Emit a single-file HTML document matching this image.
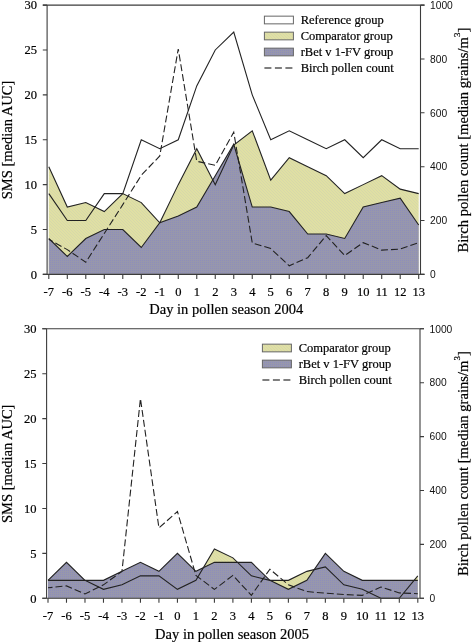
<!DOCTYPE html>
<html><head><meta charset="utf-8"><style>
html,body{margin:0;padding:0;background:#fff;}
svg{display:block;will-change:transform;}
text{font-family:"Liberation Serif",serif;fill:#000;stroke:#000;stroke-width:0.2px;}
.tl{font-size:12.5px;}
.tr{font-family:"Liberation Sans",sans-serif;font-size:10.25px;stroke:none;fill:#111;}
.lg{font-size:12.5px;}
.at{font-size:14.5px;}
</style></head><body>
<svg width="472" height="644" viewBox="0 0 472 644">
<defs>
<pattern id="pc" patternUnits="userSpaceOnUse" x="0" y="0" width="3" height="3">
<rect width="3" height="3" fill="rgb(224,224,163)"/>
<rect x="0" y="0" width="1" height="1" fill="rgb(215,216,170)"/>
<rect x="1" y="1" width="1" height="1" fill="rgb(215,216,170)"/>
<rect x="2" y="2" width="1" height="1" fill="rgb(215,216,170)"/>
</pattern>
<pattern id="pr" patternUnits="userSpaceOnUse" x="0" y="0" width="2" height="2">
<rect width="2" height="2" fill="rgb(151,151,172)"/>
<rect x="0" y="0" width="1" height="1" fill="rgb(142,142,186)"/>
</pattern>
</defs>
<polygon points="48.80,274.40 48.80,193.61 67.30,220.54 85.79,220.54 104.28,193.61 122.78,193.61 141.28,139.75 159.77,148.73 178.26,139.75 196.76,85.89 215.25,49.98 233.75,32.03 252.25,94.87 270.74,139.75 289.24,130.77 307.73,139.75 326.23,148.73 344.72,139.75 363.22,157.70 381.71,139.75 400.21,148.73 418.70,148.73 418.70,274.40" fill="#fff" stroke="none"/>
<polygon points="48.80,274.40 48.80,166.68 67.30,207.07 85.79,202.59 104.28,211.56 122.78,193.61 141.28,202.59 159.77,222.78 178.26,184.63 196.76,148.73 215.25,184.63 233.75,145.14 252.25,130.77 270.74,180.14 289.24,157.70 307.73,166.68 326.23,175.66 344.72,193.61 363.22,184.63 381.71,175.66 400.21,189.12 418.70,193.61 418.70,274.40" fill="url(#pc)" stroke="none"/>
<polygon points="48.80,274.40 48.80,238.49 67.30,256.45 85.79,238.49 104.28,229.52 122.78,229.52 141.28,247.47 159.77,222.78 178.26,216.05 196.76,207.07 215.25,175.66 233.75,144.24 252.25,207.07 270.74,207.07 289.24,211.56 307.73,234.00 326.23,234.00 344.72,238.49 363.22,207.07 381.71,202.59 400.21,198.10 418.70,225.03 418.70,274.40" fill="url(#pr)" stroke="none"/>
<polyline points="48.80,193.61 67.30,220.54 85.79,220.54 104.28,193.61 122.78,193.61 141.28,139.75 159.77,148.73 178.26,139.75 196.76,85.89 215.25,49.98 233.75,32.03 252.25,94.87 270.74,139.75 289.24,130.77 307.73,139.75 326.23,148.73 344.72,139.75 363.22,157.70 381.71,139.75 400.21,148.73 418.70,148.73" fill="none" stroke="#222" stroke-width="1.1" stroke-linejoin="miter" />
<polyline points="48.80,166.68 67.30,207.07 85.79,202.59 104.28,211.56 122.78,193.61 141.28,202.59 159.77,222.78 178.26,184.63 196.76,148.73 215.25,184.63 233.75,145.14 252.25,130.77 270.74,180.14 289.24,157.70 307.73,166.68 326.23,175.66 344.72,193.61 363.22,184.63 381.71,175.66 400.21,189.12 418.70,193.61" fill="none" stroke="#222" stroke-width="1.1" stroke-linejoin="miter" />
<polyline points="48.80,238.49 67.30,256.45 85.79,238.49 104.28,229.52 122.78,229.52 141.28,247.47 159.77,222.78 178.26,216.05 196.76,207.07 215.25,175.66 233.75,144.24 252.25,207.07 270.74,207.07 289.24,211.56 307.73,234.00 326.23,234.00 344.72,238.49 363.22,207.07 381.71,202.59 400.21,198.10 418.70,225.03" fill="none" stroke="#222" stroke-width="1.1" stroke-linejoin="miter" />
<polyline points="48.80,239.39 67.30,249.62 85.79,262.28 104.28,233.47 122.78,204.65 141.28,175.30 159.77,155.91 178.26,49.00 196.76,161.29 215.25,165.33 233.75,132.21 252.25,242.89 270.74,248.55 289.24,265.78 307.73,257.70 326.23,235.62 344.72,255.55 363.22,242.62 381.71,250.16 400.21,249.09 418.70,242.62" fill="none" stroke="#222" stroke-width="1.1" stroke-linejoin="miter" stroke-dasharray="7,3" stroke-dashoffset="2.5"/>
<path d="M47.10,5.10V274.40M420.50,5.10V274.40M42.80,5.10H424.50M42.80,274.40H424.50" stroke="#3c3c3c" stroke-width="1.1" fill="none"/>
<path d="M42.80,274.40H47.10M42.80,229.52H47.10M42.80,184.63H47.10M42.80,139.75H47.10M42.80,94.87H47.10M42.80,49.98H47.10M42.80,5.10H47.10M420.50,274.40H424.50M420.50,220.54H424.50M420.50,166.68H424.50M420.50,112.82H424.50M420.50,58.96H424.50M420.50,5.10H424.50M48.80,274.40V278.90M67.30,274.40V278.90M85.79,274.40V278.90M104.28,274.40V278.90M122.78,274.40V278.90M141.28,274.40V278.90M159.77,274.40V278.90M178.26,274.40V278.90M196.76,274.40V278.90M215.25,274.40V278.90M233.75,274.40V278.90M252.25,274.40V278.90M270.74,274.40V278.90M289.24,274.40V278.90M307.73,274.40V278.90M326.23,274.40V278.90M344.72,274.40V278.90M363.22,274.40V278.90M381.71,274.40V278.90M400.21,274.40V278.90M418.70,274.40V278.90" stroke="#3c3c3c" stroke-width="1.1" fill="none"/>
<text x="37.10" y="278.70" text-anchor="end" class="tl">0</text>
<text x="37.10" y="233.82" text-anchor="end" class="tl">5</text>
<text x="37.10" y="188.93" text-anchor="end" class="tl">10</text>
<text x="37.10" y="144.05" text-anchor="end" class="tl">15</text>
<text x="37.10" y="99.17" text-anchor="end" class="tl">20</text>
<text x="37.10" y="54.28" text-anchor="end" class="tl">25</text>
<text x="37.10" y="9.40" text-anchor="end" class="tl">30</text>
<text x="430.00" y="278.10" class="tr">0</text>
<text x="430.00" y="224.24" class="tr">200</text>
<text x="430.00" y="170.38" class="tr">400</text>
<text x="430.00" y="116.52" class="tr">600</text>
<text x="430.00" y="62.66" class="tr">800</text>
<text x="430.00" y="8.80" class="tr">1000</text>
<text x="48.80" y="295.70" text-anchor="middle" class="tl">-7</text>
<text x="67.30" y="295.70" text-anchor="middle" class="tl">-6</text>
<text x="85.79" y="295.70" text-anchor="middle" class="tl">-5</text>
<text x="104.28" y="295.70" text-anchor="middle" class="tl">-4</text>
<text x="122.78" y="295.70" text-anchor="middle" class="tl">-3</text>
<text x="141.28" y="295.70" text-anchor="middle" class="tl">-2</text>
<text x="159.77" y="295.70" text-anchor="middle" class="tl">-1</text>
<text x="178.26" y="295.70" text-anchor="middle" class="tl">0</text>
<text x="196.76" y="295.70" text-anchor="middle" class="tl">1</text>
<text x="215.25" y="295.70" text-anchor="middle" class="tl">2</text>
<text x="233.75" y="295.70" text-anchor="middle" class="tl">3</text>
<text x="252.25" y="295.70" text-anchor="middle" class="tl">4</text>
<text x="270.74" y="295.70" text-anchor="middle" class="tl">5</text>
<text x="289.24" y="295.70" text-anchor="middle" class="tl">6</text>
<text x="307.73" y="295.70" text-anchor="middle" class="tl">7</text>
<text x="326.23" y="295.70" text-anchor="middle" class="tl">8</text>
<text x="344.72" y="295.70" text-anchor="middle" class="tl">9</text>
<text x="363.22" y="295.70" text-anchor="middle" class="tl">10</text>
<text x="381.71" y="295.70" text-anchor="middle" class="tl">11</text>
<text x="400.21" y="295.70" text-anchor="middle" class="tl">12</text>
<text x="418.70" y="295.70" text-anchor="middle" class="tl">13</text>
<rect x="264.40" y="16.15" width="29" height="7.7" fill="#fff" stroke="#666" stroke-width="1"/>
<text x="300.70" y="24.30" class="lg">Reference group</text>
<rect x="264.40" y="32.15" width="29" height="7.7" fill="url(#pc)" stroke="#666" stroke-width="1"/>
<text x="300.70" y="40.30" class="lg">Comparator group</text>
<rect x="264.40" y="48.15" width="29" height="7.7" fill="url(#pr)" stroke="#666" stroke-width="1"/>
<text x="300.70" y="56.30" class="lg">rBet v 1-FV group</text>
<path d="M264.40,68.00H293.40" stroke="#555" stroke-width="1.3" stroke-dasharray="7,3.5"/>
<text x="300.70" y="72.30" class="lg">Birch pollen count</text>
<polygon points="48.00,598.30 48.00,580.33 66.49,580.33 84.98,580.33 103.47,589.32 121.96,584.82 140.45,575.84 158.94,575.84 177.43,589.32 195.92,580.33 214.41,548.89 232.90,557.88 251.39,575.84 269.88,580.33 288.37,580.33 306.86,571.35 325.35,566.86 343.84,584.82 362.33,589.32 380.82,598.30 399.31,598.30 417.80,575.84 417.80,598.30" fill="url(#pc)" stroke="none"/>
<polygon points="48.00,598.30 48.00,580.33 66.49,562.37 84.98,580.33 103.47,580.33 121.96,571.35 140.45,562.37 158.94,571.35 177.43,553.38 195.92,571.35 214.41,562.37 232.90,562.37 251.39,562.37 269.88,580.33 288.37,589.32 306.86,580.33 325.35,553.38 343.84,571.35 362.33,580.33 380.82,580.33 399.31,580.33 417.80,580.33 417.80,598.30" fill="url(#pr)" stroke="none"/>
<polyline points="48.00,580.33 66.49,580.33 84.98,580.33 103.47,589.32 121.96,584.82 140.45,575.84 158.94,575.84 177.43,589.32 195.92,580.33 214.41,548.89 232.90,557.88 251.39,575.84 269.88,580.33 288.37,580.33 306.86,571.35 325.35,566.86 343.84,584.82 362.33,589.32 380.82,598.30 399.31,598.30 417.80,575.84" fill="none" stroke="#222" stroke-width="1.1" stroke-linejoin="miter" />
<polyline points="48.00,580.33 66.49,562.37 84.98,580.33 103.47,580.33 121.96,571.35 140.45,562.37 158.94,571.35 177.43,553.38 195.92,571.35 214.41,562.37 232.90,562.37 251.39,562.37 269.88,580.33 288.37,589.32 306.86,580.33 325.35,553.38 343.84,571.35 362.33,580.33 380.82,580.33 399.31,580.33 417.80,580.33" fill="none" stroke="#222" stroke-width="1.1" stroke-linejoin="miter" />
<polyline points="48.00,587.79 66.49,585.90 84.98,593.99 103.47,584.82 121.96,571.35 140.45,398.60 158.94,527.96 177.43,511.52 195.92,575.39 214.41,589.41 232.90,575.39 251.39,595.34 269.88,569.19 288.37,584.82 306.86,591.56 325.35,593.18 343.84,594.53 362.33,595.34 380.82,586.98 399.31,592.91 417.80,593.72" fill="none" stroke="#222" stroke-width="1.1" stroke-linejoin="miter" stroke-dasharray="7,3" stroke-dashoffset="2.5"/>
<path d="M46.60,328.80V598.30M420.00,328.80V598.30M42.30,328.80H424.00M42.30,598.30H424.00" stroke="#3c3c3c" stroke-width="1.1" fill="none"/>
<path d="M42.30,598.30H46.60M42.30,553.38H46.60M42.30,508.47H46.60M42.30,463.55H46.60M42.30,418.63H46.60M42.30,373.72H46.60M42.30,328.80H46.60M420.00,598.30H424.00M420.00,544.40H424.00M420.00,490.50H424.00M420.00,436.60H424.00M420.00,382.70H424.00M420.00,328.80H424.00M48.00,598.30V602.80M66.49,598.30V602.80M84.98,598.30V602.80M103.47,598.30V602.80M121.96,598.30V602.80M140.45,598.30V602.80M158.94,598.30V602.80M177.43,598.30V602.80M195.92,598.30V602.80M214.41,598.30V602.80M232.90,598.30V602.80M251.39,598.30V602.80M269.88,598.30V602.80M288.37,598.30V602.80M306.86,598.30V602.80M325.35,598.30V602.80M343.84,598.30V602.80M362.33,598.30V602.80M380.82,598.30V602.80M399.31,598.30V602.80M417.80,598.30V602.80" stroke="#3c3c3c" stroke-width="1.1" fill="none"/>
<text x="36.60" y="602.60" text-anchor="end" class="tl">0</text>
<text x="36.60" y="557.68" text-anchor="end" class="tl">5</text>
<text x="36.60" y="512.77" text-anchor="end" class="tl">10</text>
<text x="36.60" y="467.85" text-anchor="end" class="tl">15</text>
<text x="36.60" y="422.93" text-anchor="end" class="tl">20</text>
<text x="36.60" y="378.02" text-anchor="end" class="tl">25</text>
<text x="36.60" y="333.10" text-anchor="end" class="tl">30</text>
<text x="429.50" y="602.00" class="tr">0</text>
<text x="429.50" y="548.10" class="tr">200</text>
<text x="429.50" y="494.20" class="tr">400</text>
<text x="429.50" y="440.30" class="tr">600</text>
<text x="429.50" y="386.40" class="tr">800</text>
<text x="429.50" y="332.50" class="tr">1000</text>
<text x="48.00" y="619.60" text-anchor="middle" class="tl">-7</text>
<text x="66.49" y="619.60" text-anchor="middle" class="tl">-6</text>
<text x="84.98" y="619.60" text-anchor="middle" class="tl">-5</text>
<text x="103.47" y="619.60" text-anchor="middle" class="tl">-4</text>
<text x="121.96" y="619.60" text-anchor="middle" class="tl">-3</text>
<text x="140.45" y="619.60" text-anchor="middle" class="tl">-2</text>
<text x="158.94" y="619.60" text-anchor="middle" class="tl">-1</text>
<text x="177.43" y="619.60" text-anchor="middle" class="tl">0</text>
<text x="195.92" y="619.60" text-anchor="middle" class="tl">1</text>
<text x="214.41" y="619.60" text-anchor="middle" class="tl">2</text>
<text x="232.90" y="619.60" text-anchor="middle" class="tl">3</text>
<text x="251.39" y="619.60" text-anchor="middle" class="tl">4</text>
<text x="269.88" y="619.60" text-anchor="middle" class="tl">5</text>
<text x="288.37" y="619.60" text-anchor="middle" class="tl">6</text>
<text x="306.86" y="619.60" text-anchor="middle" class="tl">7</text>
<text x="325.35" y="619.60" text-anchor="middle" class="tl">8</text>
<text x="343.84" y="619.60" text-anchor="middle" class="tl">9</text>
<text x="362.33" y="619.60" text-anchor="middle" class="tl">10</text>
<text x="380.82" y="619.60" text-anchor="middle" class="tl">11</text>
<text x="399.31" y="619.60" text-anchor="middle" class="tl">12</text>
<text x="417.80" y="619.60" text-anchor="middle" class="tl">13</text>
<rect x="262.40" y="344.15" width="29" height="7.7" fill="url(#pc)" stroke="#666" stroke-width="1"/>
<text x="298.70" y="352.30" class="lg">Comparator group</text>
<rect x="262.40" y="360.15" width="29" height="7.7" fill="url(#pr)" stroke="#666" stroke-width="1"/>
<text x="298.70" y="368.30" class="lg">rBet v 1-FV group</text>
<path d="M262.40,380.00H291.40" stroke="#555" stroke-width="1.3" stroke-dasharray="7,3.5"/>
<text x="298.70" y="384.30" class="lg">Birch pollen count</text>
<text x="149.3" y="313.8" class="at">Day in pollen season 2004</text>
<text x="155.1" y="639.4" class="at">Day in pollen season 2005</text>
<text transform="translate(12.2,199.2) rotate(-90)" class="at">SMS [median AUC]</text>
<text transform="translate(12.4,523.0) rotate(-90)" class="at">SMS [median AUC]</text>
<text transform="translate(468.2,252.5) rotate(-90)" class="at" style="font-size:14.65px">Birch pollen count [median grains/m<tspan dy="-7.8" font-size="9">3</tspan><tspan dy="7.8">]</tspan></text>
<text transform="translate(468.2,576) rotate(-90)" class="at" style="font-size:14.65px">Birch pollen count [median grains/m<tspan dy="-7.8" font-size="9">3</tspan><tspan dy="7.8">]</tspan></text>
</svg>
</body></html>
